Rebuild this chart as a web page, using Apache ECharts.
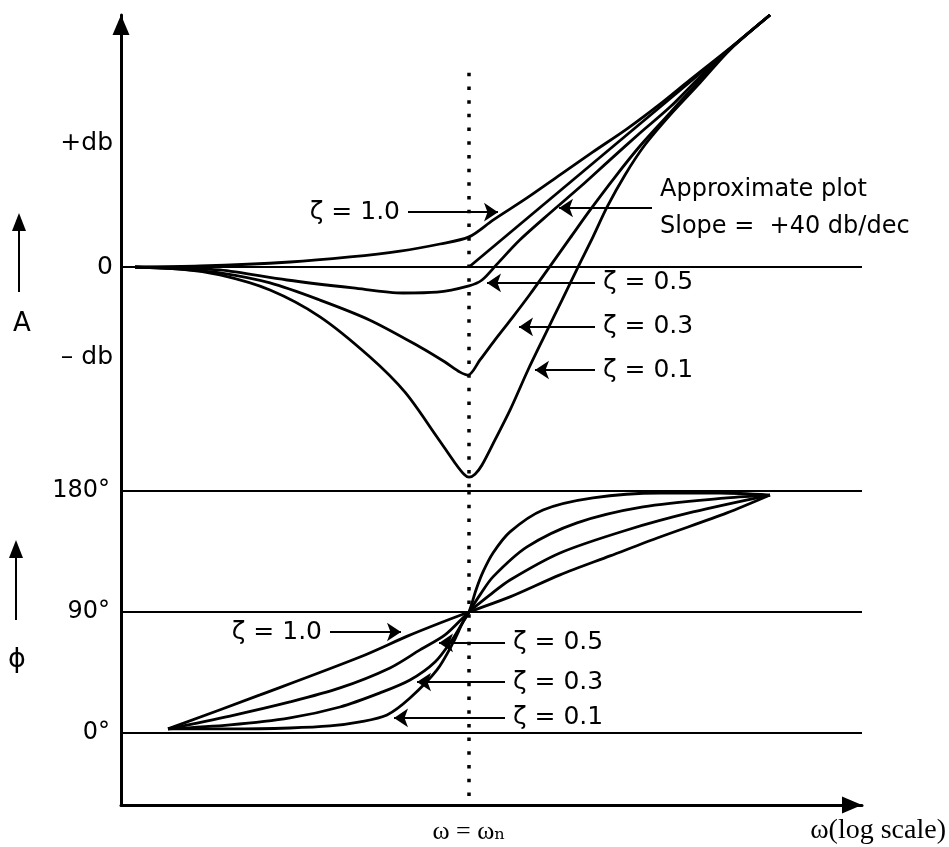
<!DOCTYPE html>
<html>
<head>
<meta charset="utf-8">
<script src="https://cdn.jsdelivr.net/npm/echarts@6/dist/echarts.min.js"></script>
<style>
  html, body { margin: 0; padding: 0; background: #fff; }
  #chart { width: 949px; height: 847px; }
</style>
</head>
<body>
<div id="chart"></div>
<script>
// x = log10(w / wn) in decades, magnitude in dB, phase in degrees
let magZeta10 = [[-1.67,0],[-1.345,0.24],[-0.895,1.2],[-0.595,2.4],[-0.345,3.8],[-0.145,5.5],[0,7.2],[0.12,11.2],[0.29,16.5],[0.455,22.0],[0.62,27.5],[0.79,33.0],[0.955,38.9],[1.105,44.7],[1.305,52.3],[1.505,60.2]];
let magZeta05 = [[-1.67,0],[-1.445,-0.24],[-1.245,-0.7],[-0.91,-3.1],[-0.58,-5.0],[-0.33,-6.2],[-0.16,-6.0],[0,-4.5],[0.065,-3.1],[0.14,0.7],[0.255,6.5],[0.405,12.9],[0.555,19.1],[0.705,25.6],[0.855,32.0],[1.005,38.2],[1.155,45.4],[1.305,52.1],[1.505,60.2]];
let magZeta03 = [[-1.67,0],[-1.445,-0.5],[-1.245,-1.4],[-0.995,-3.8],[-0.745,-7.9],[-0.495,-12.7],[-0.245,-19.1],[-0.12,-22.7],[-0.045,-25.1],[-0.005,-25.8],[0.055,-22.2],[0.13,-17.4],[0.215,-12.2],[0.305,-6.5],[0.395,-0.5],[0.505,6.9],[0.605,13.6],[0.73,21.5],[0.855,28.9],[1.005,36.8],[1.155,44.7],[1.305,52.1],[1.505,60.2]];
let magZeta01 = [[-1.67,0],[-1.445,-0.5],[-1.245,-1.9],[-0.995,-5.5],[-0.745,-11.9],[-0.495,-21.5],[-0.32,-29.9],[-0.16,-40.6],[-0.07,-46.8],[-0.025,-49.5],[0,-50.2],[0.03,-49.5],[0.065,-47.3],[0.13,-41.3],[0.205,-34.2],[0.295,-24.6],[0.38,-16.2],[0.465,-7.9],[0.545,0],[0.62,7.2],[0.69,14.3],[0.78,22.0],[0.88,29.2],[1.005,36.3],[1.155,44.0],[1.305,51.9],[1.505,60.2]];
// straight line approximation, +40 db/dec above wn
let asymptote = [[0,0],[1.505,60.2]];

let phZeta10 = [[-1.505,3],[-1.045,28.3],[-0.545,56.5],[-0.305,72.2],[-0.145,81.8],[0,90],[0.205,101.2],[0.455,117.6],[0.705,131.7],[0.955,145.8],[1.29,163.7],[1.505,177]];
let phZeta05 = [[-1.505,3],[-1.195,12.6],[-0.895,23.1],[-0.645,33.5],[-0.395,48.4],[-0.245,61.8],[-0.12,72.9],[0,90],[0.105,102.7],[0.205,113.8],[0.455,133.9],[0.79,151.0],[1.12,164.4],[1.505,177]];
let phZeta03 = [[-1.505,3],[-1.195,6.0],[-0.895,11.2],[-0.645,19.3],[-0.445,29.8],[-0.295,39.4],[-0.17,52.8],[-0.085,69.2],[-0.03,82.6],[0,90],[0.055,102.7],[0.12,116.1],[0.29,138.4],[0.54,156.3],[0.87,168.2],[1.29,174.9],[1.505,177]];
let phZeta01 = [[-1.505,3],[-1.195,3],[-0.895,3.7],[-0.695,5.2],[-0.545,8.2],[-0.41,13.4],[-0.295,26.0],[-0.16,46.9],[-0.08,67.0],[-0.03,82.6],[0,90],[0.035,106.4],[0.07,119.8],[0.12,133.9],[0.205,149.6],[0.37,165.9],[0.62,174.9],[0.955,178.5],[1.255,178.5],[1.505,177]];

let magTicks = [-21.7, 0, 29.6];
let phaseTicks = [0, 90, 180];

// annotation arrows: [text, start, arrow end]
let magNotes = [
    ['ζ = 1.0', [-0.305, 13.1], [0.145, 13.1]],
    ['Approximate plot\nSlope =  +40 db/dec', [0.915, 14.1], [0.45, 14.1]],
    ['ζ = 0.5', [0.63, -3.8], [0.09, -3.8]],
    ['ζ = 0.3', [0.63, -14.3], [0.25, -14.3]],
    ['ζ = 0.1', [0.63, -24.6], [0.33, -24.6]]
];
let phNotes = [
    ['ζ = 1.0', [-0.695, 75.1], [-0.34, 75.1]],
    ['ζ = 0.5', [0.18, 67.0], [-0.15, 67.0]],
    ['ζ = 0.3', [0.18, 37.9], [-0.26, 37.9]],
    ['ζ = 0.1', [0.18, 11.2], [-0.375, 11.2]]
];

const sans = '"DejaVu Sans", "Liberation Sans", sans-serif';
const serif = '"Liberation Serif", "DejaVu Serif", serif';

function curve(data, grid) {
    return {
        type: 'line',
        xAxisIndex: grid,
        yAxisIndex: grid,
        data: data,
        showSymbol: false,
        smooth: 0.3,
        lineStyle: { color: '#000', width: 2.8 },
        silent: true
    };
}

function noteLines(notes) {
    return notes.map(n => [
        { name: n[0], coord: n[1], label: n[0].indexOf('\n') > 0 ? { fontSize: 24, lineHeight: 37 } : {} },
        { coord: n[2] }
    ]);
}

let chart = echarts.init(document.getElementById('chart'));

let series = [
    curve(magZeta10, 0),
    curve(magZeta05, 0),
    curve(magZeta03, 0),
    curve(magZeta01, 0),
    Object.assign(curve(asymptote, 0), {
        smooth: false,
        markLine: {
            silent: true,
            symbol: ['none', 'arrow'],
            symbolSize: 14,
            lineStyle: { color: '#000', width: 1.8, type: 'solid' },
            label: { show: true, position: 'start', distance: 8, formatter: '{b}', color: '#000', fontSize: 25, fontFamily: sans },
            data: noteLines(magNotes)
        }
    }),
    {
        type: 'line', xAxisIndex: 0, yAxisIndex: 0, data: [],
        markLine: {
            silent: true, symbol: 'none',
            label: { show: false },
            lineStyle: { color: '#000', width: 2.2, type: 'solid' },
            data: [{ yAxis: 0 }]
        }
    },
    {
        type: 'line', xAxisIndex: 0, yAxisIndex: 0, data: [],
        markLine: {
            silent: true, symbol: 'none',
            label: { show: false },
            lineStyle: { color: '#000', width: 3.5, type: [3.5, 10.2] },
            data: [[{ coord: [0, 46.4] }, { coord: [0, -53.5] }]]
        }
    },
    curve(phZeta10, 1),
    curve(phZeta05, 1),
    curve(phZeta03, 1),
    Object.assign(curve(phZeta01, 1), {
        markLine: {
            silent: true,
            symbol: ['none', 'arrow'],
            symbolSize: 14,
            lineStyle: { color: '#000', width: 1.8, type: 'solid' },
            label: { show: true, position: 'start', distance: 8, formatter: '{b}', color: '#000', fontSize: 25, fontFamily: sans },
            data: noteLines(phNotes)
        }
    }),
    {
        type: 'line', xAxisIndex: 1, yAxisIndex: 1, data: [],
        markLine: {
            silent: true, symbol: 'none',
            label: { show: false },
            lineStyle: { color: '#000', width: 2.2, type: 'solid' },
            data: phaseTicks.map(v => ({ yAxis: v }))
        }
    },
    {
        type: 'line', xAxisIndex: 1, yAxisIndex: 1, data: [],
        markLine: {
            silent: true, symbol: 'none',
            label: { show: false },
            lineStyle: { color: '#000', width: 3.5, type: [3.5, 10.2] },
            data: [[{ coord: [0, 180] }, { coord: [0, -50] }]]
        }
    }
];

let option = {
    animation: false,
    backgroundColor: '#fff',
    grid: [
        { left: 121, top: 15, width: 741, height: 476 },
        { left: 121, top: 491, width: 741, height: 314 }
    ],
    xAxis: [
        { gridIndex: 0, type: 'value', min: -1.74, max: 1.965, show: false },
        {
            gridIndex: 1, type: 'value', min: -1.74, max: 1.965,
            axisLine: { onZero: false, symbol: ['none', 'triangle'], symbolSize: [17, 20], symbolOffset: [0, -10], lineStyle: { color: '#000', width: 3 } },
            axisTick: { show: false },
            splitLine: { show: false },
            axisLabel: {
                customValues: [0], margin: 14, color: '#000', fontSize: 26, fontFamily: serif,
                formatter: () => 'ω = ωₙ'
            },
            name: 'ω(log scale)',
            nameLocation: 'end',
            nameGap: 84,
            nameTextStyle: { align: 'right', verticalAlign: 'top', padding: [12, 0, 0, 0], fontSize: 28, fontFamily: serif, color: '#000' }
        }
    ],
    yAxis: [
        {
            gridIndex: 0, type: 'value', min: -53.5, max: 60.2,
            axisLine: { show: true, onZero: false, symbol: ['none', 'triangle'], symbolSize: [17, 20], symbolOffset: [0, -10], lineStyle: { color: '#000', width: 3 } },
            axisTick: { show: false },
            splitLine: { show: false },
            axisLabel: {
                customValues: magTicks, margin: 8, color: '#000', fontSize: 25, fontFamily: sans,
                formatter: v => v > 0 ? '+db' : (v < 0 ? '– db' : '0')
            }
        },
        {
            gridIndex: 1, type: 'value', min: -53.6, max: 180,
            axisLine: { show: true, onZero: false, lineStyle: { color: '#000', width: 3 } },
            axisTick: { show: false },
            splitLine: { show: false },
            axisLabel: {
                customValues: phaseTicks, margin: 11, color: '#000', fontSize: 24, fontFamily: sans,
                formatter: '{value}°'
            }
        }
    ],
    graphic: [
        { type: 'line', shape: { x1: 19, y1: 292, x2: 19, y2: 228 }, style: { stroke: '#000', lineWidth: 2 } },
        { type: 'polygon', shape: { points: [[19, 213], [12, 231], [26, 231]] }, style: { fill: '#000' } },
        { type: 'text', x: 22, y: 324, style: { text: 'A', font: '26px ' + sans, fill: '#000', align: 'center', verticalAlign: 'middle', textAlign: 'center', textVerticalAlign: 'middle' } },
        { type: 'line', shape: { x1: 16, y1: 620, x2: 16, y2: 555 }, style: { stroke: '#000', lineWidth: 2 } },
        { type: 'polygon', shape: { points: [[16, 540], [9, 558], [23, 558]] }, style: { fill: '#000' } },
        { type: 'text', x: 17, y: 660, style: { text: 'ϕ', font: '27px "DejaVu Sans"', fill: '#000', align: 'center', verticalAlign: 'middle', textAlign: 'center', textVerticalAlign: 'middle' } }
    ],
    series: series
};

chart.setOption(option);
</script>
</body>
</html>
